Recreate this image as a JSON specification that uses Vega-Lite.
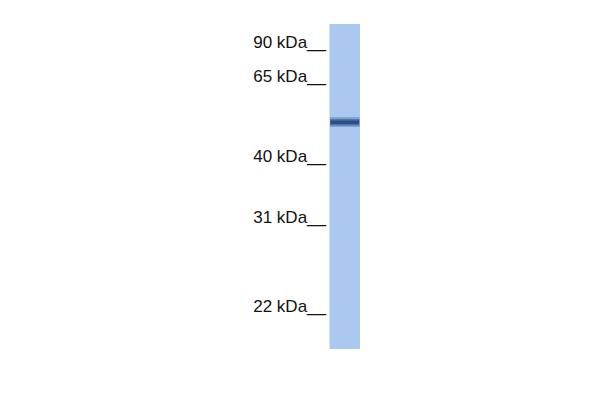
{
  "$schema": "https://vega.github.io/schema/vega-lite/v6.json",
  "autosize": {"type": "fit", "contains": "padding"},
  "width": 600,
  "height": 400,
  "padding": 0,
  "background": "white",
  "config": {"view": {"stroke": null}},
  "datasets": {
    "lane": [{"x0": 329.5, "x1": 360, "top": 24, "bottom": 349}],
    "band": [
      {"layer": "halo", "x0": 330, "x1": 359.5, "top": 117, "bottom": 127, "opacity": 0.3},
      {"layer": "mid", "x0": 330, "x1": 359.5, "top": 119, "bottom": 125.5, "opacity": 0.5},
      {"layer": "core", "x0": 330.5, "x1": 359, "top": 120.5, "bottom": 124, "opacity": 0.9}
    ],
    "markers": [
      {"label": "90 kDa__", "x": 326, "pos": 43},
      {"label": "65 kDa__", "x": 326, "pos": 77},
      {"label": "40 kDa__", "x": 326, "pos": 157},
      {"label": "31 kDa__", "x": 326, "pos": 218},
      {"label": "22 kDa__", "x": 326, "pos": 307}
    ]
  },
  "layer": [
    {
      "data": {"name": "lane"},
      "mark": {"type": "rect", "color": "#aac8f0"},
      "encoding": {
        "x": {"field": "x0", "type": "quantitative", "scale": {"domain": [0, 600]}, "axis": null},
        "x2": {"field": "x1"},
        "y": {"field": "top", "type": "quantitative", "scale": {"domain": [0, 400], "reverse": true}, "axis": null},
        "y2": {"field": "bottom"}
      }
    },
    {
      "data": {"name": "band"},
      "mark": {"type": "rect", "color": "#264a82"},
      "encoding": {
        "x": {"field": "x0", "type": "quantitative", "scale": {"domain": [0, 600]}, "axis": null},
        "x2": {"field": "x1"},
        "y": {"field": "top", "type": "quantitative", "scale": {"domain": [0, 400], "reverse": true}, "axis": null},
        "y2": {"field": "bottom"},
        "opacity": {"field": "opacity", "type": "quantitative", "scale": null}
      }
    },
    {
      "data": {"name": "markers"},
      "mark": {"type": "text", "align": "right", "baseline": "middle", "font": "Liberation Sans", "fontSize": 17, "color": "#111111"},
      "encoding": {
        "x": {"field": "x", "type": "quantitative", "scale": {"domain": [0, 600]}, "axis": null},
        "y": {"field": "pos", "type": "quantitative", "scale": {"domain": [0, 400], "reverse": true}, "axis": null},
        "text": {"field": "label"}
      }
    }
  ]
}
